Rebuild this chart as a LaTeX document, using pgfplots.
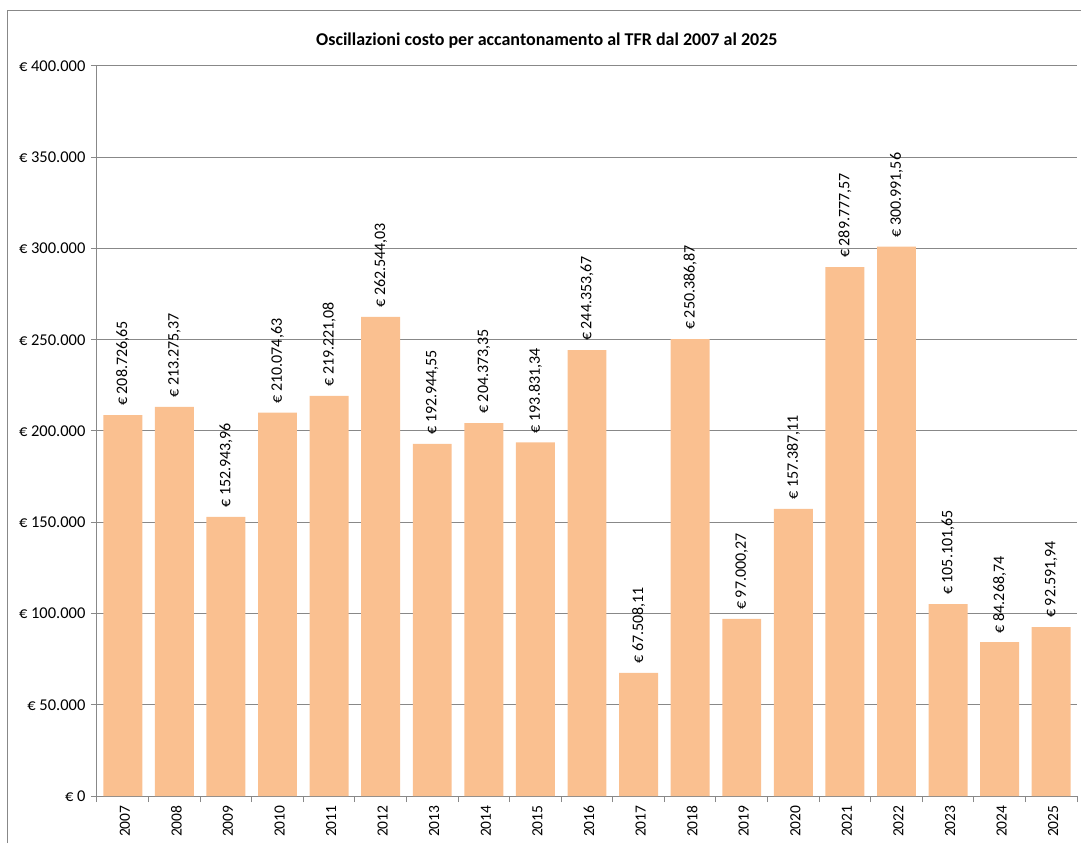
\documentclass[border=0pt]{standalone}
\usepackage{pgfplots}
\pgfplotsset{compat=1.18}
\usepackage{pgfplotstable}
\usepackage{fontspec}
\setmainfont{Carlito}
\definecolor{barc}{HTML}{FAC090}
\definecolor{gridc}{HTML}{888888}
\pgfplotstableread{
x y label
0 208726.65 208.726,65
1 213275.37 213.275,37
2 152943.96 152.943,96
3 210074.63 210.074,63
4 219221.08 219.221,08
5 262544.03 262.544,03
6 192944.55 192.944,55
7 204373.35 204.373,35
8 193831.34 193.831,34
9 244353.67 244.353,67
10 67508.11 67.508,11
11 250386.87 250.386,87
12 97000.27 97.000,27
13 157387.11 157.387,11
14 289777.57 289.777,57
15 300991.56 300.991,56
16 105101.65 105.101,65
17 84268.74 84.268,74
18 92591.94 92.591,94
}\data
\begin{document}
\begin{tikzpicture}[x=1pt,y=1pt]
\path[use as bounding box] (-97,-47) rectangle (984,796);
\draw[gridc, line width=1pt] (-89,-47) -- (-89,785) -- (984,785);
\begin{axis}[
  at={(0,0)}, anchor=south west,
  scale only axis,
  width=980pt, height=730pt,
  xmin=-0.5, xmax=18.5,
  ymin=0, ymax=400000,
  axis lines*=left,
  axis line style={gridc, line width=1pt},
  ytick={0,50000,...,400000},
  yticklabels={€ 0,€ 50.000,€ 100.000,€ 150.000,€ 200.000,€ 250.000,€ 300.000,€ 350.000,€ 400.000},
  scaled y ticks=false,
  ymajorgrids,
  grid style={gridc, line width=1pt},
  xtick={0,...,18},
  xticklabels={2007,2008,2009,2010,2011,2012,2013,2014,2015,2016,2017,2018,2019,2020,2021,2022,2023,2024,2025},
  minor xtick={-0.5,0.5,...,18.5},
  x tick label style={rotate=90, anchor=east, font=\fontsize{15.5}{18}\selectfont},
  y tick label style={font=\fontsize{16.5}{19}\selectfont, xshift=-2pt},
  tick align=outside,
  major tick length=6pt,
  minor tick length=6pt,
  xtick style={draw=none},
  minor x tick style={draw=gridc, line width=1pt},
  ytick style={draw=gridc, line width=1pt},
  xticklabel style={yshift=-2pt},
  title={\bfseries Oscillazioni costo per accantonamento al TFR dal 2007 al 2025},
  title style={font=\fontsize{18}{21}\selectfont, at={(0.459,1)}, yshift=8pt},
  clip=false,
]
\addplot[ybar, bar width=0.755, fill=barc, draw=none,
  nodes near coords={€ \pgfplotspointmeta},
  point meta=explicit symbolic,
  every node near coord/.append style={rotate=90, anchor=west, font=\fontsize{16}{19}\selectfont, xshift=8pt, inner sep=1pt},
] table[x=x, y=y, meta=label] {\data};
\end{axis}
\end{tikzpicture}
\end{document}
